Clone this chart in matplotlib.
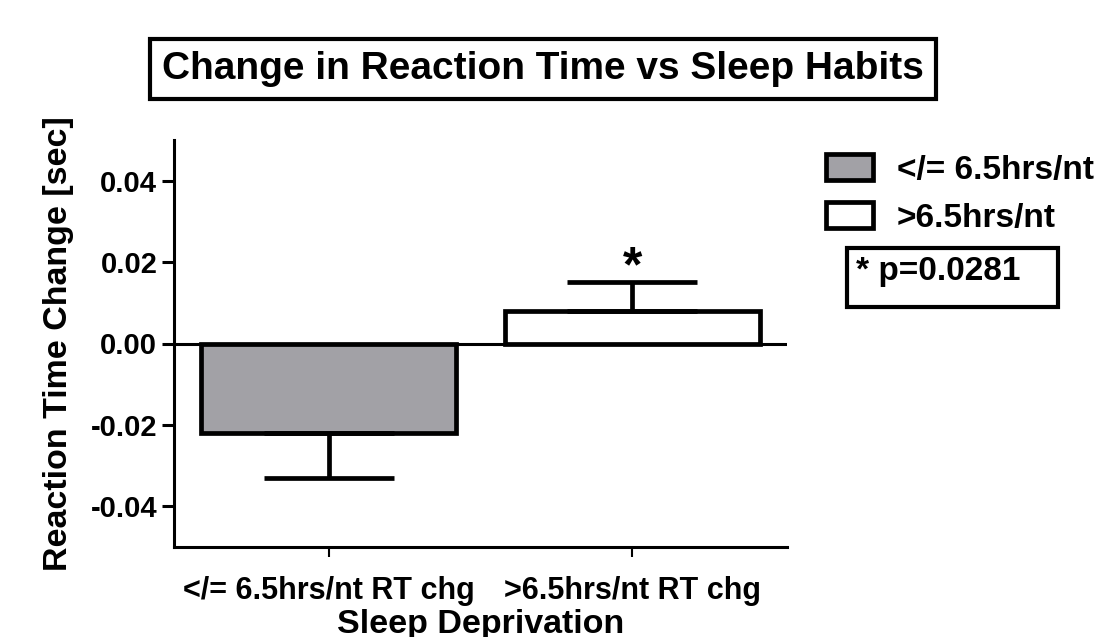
import matplotlib
matplotlib.use("Agg")
import matplotlib.pyplot as plt
from matplotlib.patches import Patch, Rectangle

categories = ["</= 6.5hrs/nt RT chg", ">6.5hrs/nt RT chg"]
means = [-0.022, 0.008]
err_low = [0.011, 0.0]
err_high = [0.0, 0.007]
legend_labels = ["</= 6.5hrs/nt", ">6.5hrs/nt"]
colors = ["#a2a1a6", "#ffffff"]
yticks = [-0.04, -0.02, 0.00, 0.02, 0.04]
ytick_labels = ["-0.04", "-0.02", "0.00", "0.02", "0.04"]
title = "Change in Reaction Time vs Sleep Habits"
ylabel = "Reaction Time Change [sec]"
xlabel = "Sleep Deprivation"
pvalue_text = "* p=0.0281"

plt.rcParams['font.family'] = ['Liberation Sans', 'DejaVu Sans']
plt.rcParams['font.weight'] = 'bold'

W, H = 1099, 637
fig = plt.figure(figsize=(W/100, H/100), dpi=100)
ax = fig.add_axes([174/W, 1-547/H, (787-174)/W, (547-140)/H])

x = list(range(len(categories)))
ax.bar(x, means, width=0.84, color=colors, edgecolor='black', linewidth=3.4, zorder=2)
ax.errorbar(x, means, yerr=[err_low, err_high], fmt='none', ecolor='black',
            elinewidth=3.4, capsize=46.5, capthick=3.4, zorder=3)
ax.axhline(0, color='black', linewidth=2.2, zorder=4)

ax.text(1, 0.0185, "*", ha='center', va='center', fontsize=36, fontweight='bold')

ax.set_xlim(-0.51, 1.51)
ax.set_ylim(-0.05, 0.05)
ax.set_yticks(yticks)
ax.set_yticklabels(ytick_labels)
ax.set_xticks(x)
ax.set_xticklabels(categories)
for s in ['top', 'right']:
    ax.spines[s].set_visible(False)
for s in ['left', 'bottom']:
    ax.spines[s].set_linewidth(2.2)
ax.tick_params(axis='y', length=8.5, width=2.2, labelsize=21, pad=3.5)
ax.tick_params(axis='x', length=7, width=1.5, labelsize=22, pad=14)
for lab in ax.get_xticklabels() + ax.get_yticklabels():
    lab.set_fontweight('bold')

ax.set_ylabel(ylabel, fontsize=24.5, fontweight='bold', labelpad=12)
ax.set_xlabel(xlabel, fontsize=24.5, fontweight='bold', labelpad=2)

fig.text(543/W, 1-69/H, title, ha='center', va='center', fontsize=28,
         fontweight='bold',
         bbox=dict(boxstyle='square,pad=0.3', facecolor='white', edgecolor='black', linewidth=3))

handles = [Patch(facecolor=c, edgecolor='black', linewidth=3.4) for c in colors]
leg = fig.legend(handles, legend_labels, loc='upper left',
                 bbox_to_anchor=(826/W, 1-154.5/H), frameon=False,
                 prop={'family': 'Liberation Sans', 'weight': 'bold', 'size': 24},
                 handlelength=1.41, handleheight=0.81, handletextpad=0.72,
                 labelspacing=0.485, borderpad=0, borderaxespad=0)

fig.add_artist(Rectangle((847/W, 1-307/H), (1058-847)/W, (307-248)/H,
                         transform=fig.transFigure, facecolor='white',
                         edgecolor='black', linewidth=3))
fig.text(856/W, 1-280/H, pvalue_text, ha='left', va='baseline', fontsize=24,
         fontweight='bold')

fig.savefig("out.png", dpi=100)
